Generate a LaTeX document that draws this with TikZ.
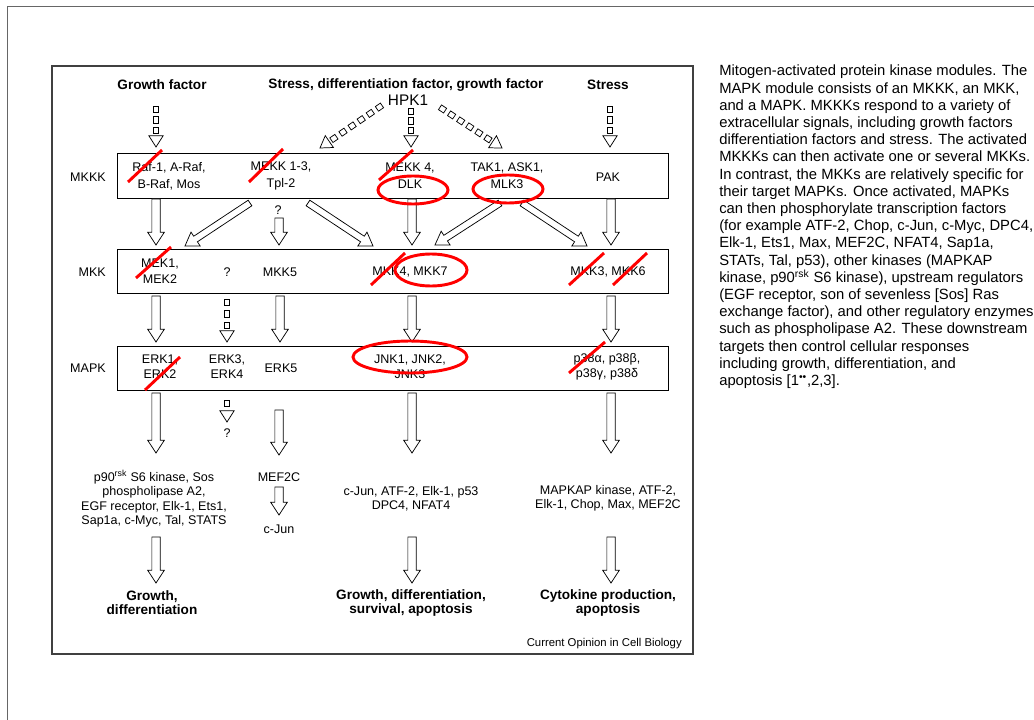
\documentclass[tikz,border=0pt]{standalone}
\usepackage{fontspec}
\setmainfont{Liberation Sans}
\usetikzlibrary{calc}

% hollow block arrow: optional shaft half width, start, tip
\newcommand{\blockarrow}[3][3.1pt]{%
  \coordinate (bap) at ($(#3)!9.5pt!(#2)$);
  \draw[barrow] ($(#2)!#1!90:(#3)$) -- ($(bap)!#1!-90:(#2)$)
    -- ($(bap)!6.2pt!-90:(#2)$) -- (#3) -- ($(bap)!6.2pt!90:(#2)$)
    -- ($(bap)!#1!90:(#2)$) -- ($(#2)!#1!-90:(#3)$) -- cycle;}

% dotted signal arrow: start, tip, number of links
\newcommand{\linkarrow}[3]{%
  \coordinate (lap) at ($(#2)!8.5pt!(#1)$);
  \foreach \k [evaluate=\k as \t using (\k-0.5)/#3] in {1,...,#3}
    \path (#1) -- (lap) node[dbox, sloped, pos=\t] {};
  \draw[barrow] ($(lap)!5.4pt!-90:(#1)$) -- (#2) -- ($(lap)!5.4pt!90:(#1)$) -- cycle;}

\begin{document}
\begin{tikzpicture}[x=0.75pt,y=-0.75pt,
  frame/.style={draw=black!75, line width=1.1pt},
  row/.style={draw=black, line width=0.7pt, fill=white, inner sep=0pt,
    minimum width=413.25pt, minimum height=33.5pt},
  txt/.style={font=\fontsize{9.4}{12.75}\selectfont, align=center, inner sep=0pt},
  txtb/.style={txt, font=\fontsize{9.4}{12}\selectfont},
  txtc/.style={txt, font=\fontsize{9.4}{11.25}\selectfont},
  txtd/.style={txt, font=\fontsize{9.4}{10.75}\selectfont},
  head/.style={font=\bfseries\fontsize{10.2}{10.5}\selectfont, align=center, inner sep=0pt},
  barrow/.style={draw=black, line width=0.55pt, fill=white, line join=miter},
  dbox/.style={draw=black, line width=0.55pt, fill=white, rectangle, inner sep=0pt,
    minimum width=4.6pt, minimum height=4.2pt},
  knock/.style={draw=red, line width=2.2pt}]

% page and figure frames
\fill[white] (0,0) rectangle (1034,720);
\useasboundingbox (0,0) rectangle (1034,720);
\draw[draw=black!60, line width=1.4pt] (7.5,720) -- (7.5,6.5) -- (1034,6.5);
\draw[frame] (52,66) rectangle (693,654);

% signal sources
\node[head] (hgf) at (162,85) {Growth factor};
\node[head] (hsd) at (406,85) {Stress, differentiation factor, growth factor};
\node[head] (hst) at (608,85) {Stress};
\node[font=\fontsize{11.5}{12}\selectfont, inner sep=0pt] (hpk) at (408,100) {HPK1};

% module rows
\node[row] (mkkk) at (392.5,176) {};
\node[row] (mkk) at (392.5,271.5) {};
\node[row] (mapk) at (392.5,368.5) {};
\node[txt, anchor=east] (lmkkk) at (106,177) {MKKK};
\node[txt, anchor=east] (lmkk) at (106,272) {MKK};
\node[txt, anchor=east] (lmapk) at (106,368) {MAPK};

% MKKK members
\node[txt] (raf) at (169,176) {Raf-1, A-Raf,\\B-Raf, Mos};
\node[txt] (mekk13) at (281,176) {MEKK 1-3,\\Tpl-2};
\node[txt] (mekk4) at (410,176) {MEKK 4,\\DLK};
\node[txt] (tak) at (507,176) {TAK1, ASK1,\\MLK3};
\node[txt] (pak) at (608,177) {PAK};

% MKK members
\node[txtb] (mek) at (160,271) {MEK1,\\MEK2};
\node[txt] (mkkq) at (227,272) {?};
\node[txt] (mkk5) at (280,272) {MKK5};
\node[txt] (mkk47) at (410,272) {MKK4, MKK7};
\node[txt] (mkk36) at (608,272) {MKK3, MKK6};

% MAPK members
\node[txtc] (erk12) at (160,367) {ERK1,\\ERK2};
\node[txtc] (erk34) at (227,367) {ERK3,\\ERK4};
\node[txt] (erk5) at (281,368) {ERK5};
\node[txtc] (jnk) at (410,367) {JNK1, JNK2,\\JNK3};
\node[txtc] (p38) at (607,367) {p38α, p38β,\\p38γ, p38δ};

% substrates and responses
\node[txt] (q212) at (278,210) {?};
\node[txt] (q433) at (227,433) {?};
\node[txt] (mef) at (279,477) {MEF2C};
\node[txt] (cjun) at (279,529) {c-Jun};
\node[txtd] (sub1) at (154,498.5) {p90\textsuperscript{rsk} S6 kinase, Sos\\phospholipase A2,\\EGF receptor, Elk-1, Ets1,\\Sap1a, c-Myc, Tal, STATS};
\node[txtd] (sub3) at (411,498.5) {c-Jun, ATF-2, Elk-1, p53\\DPC4, NFAT4};
\node[txtd] (sub5) at (608,498.5) {MAPKAP kinase, ATF-2,\\Elk-1, Chop, Max, MEF2C};
\node[head] (res1) at (152,603) {Growth,\\differentiation};
\node[head] (res3) at (411,603) {Growth, differentiation,\\survival, apoptosis};
\node[head] (res5) at (608,603) {Cytokine production,\\apoptosis};
\node[font=\fontsize{8.5}{9}\selectfont, inner sep=0pt, anchor=east] (credit) at (682,644) {Current Opinion in Cell Biology};

% arrow end points
\coordinate (s1a) at (156,104); \coordinate (t1a) at (156,147);
\coordinate (s3a) at (411,106); \coordinate (t3a) at (411,147);
\coordinate (s5a) at (610,104); \coordinate (t5a) at (610,147);
\coordinate (shl) at (384,104); \coordinate (thl) at (320,148);
\coordinate (shr) at (438,106); \coordinate (thr) at (502,148);

\coordinate (k1s) at (156,199); \coordinate (k1t) at (156,245);
\coordinate (k2s) at (250,203); \coordinate (k2t) at (185,246);
\coordinate (k3s) at (279,218); \coordinate (k3t) at (279,245);
\coordinate (k4s) at (308,203); \coordinate (k4t) at (373,246);
\coordinate (k5s) at (412,199); \coordinate (k5t) at (412,245);
\coordinate (k6s) at (500,203); \coordinate (k6t) at (435,245);
\coordinate (k7s) at (522,203); \coordinate (k7t) at (587,246);
\coordinate (k8s) at (611,199); \coordinate (k8t) at (611,245);

\coordinate (m1s) at (156,296); \coordinate (m1t) at (156,342);
\coordinate (m2s) at (227,297); \coordinate (m2t) at (227,342);
\coordinate (m3s) at (280,296); \coordinate (m3t) at (280,342);
\coordinate (m4s) at (412,296); \coordinate (m4t) at (412,342);
\coordinate (m5s) at (611,296); \coordinate (m5t) at (611,342);

\coordinate (p1s) at (156,393); \coordinate (p1t) at (156,453);
\coordinate (p2s) at (227,396); \coordinate (p2t) at (227,422);
\coordinate (p3s) at (279,410); \coordinate (p3t) at (279,455);
\coordinate (p4s) at (412,393); \coordinate (p4t) at (412,453);
\coordinate (p5s) at (611,393); \coordinate (p5t) at (611,453);
\coordinate (p6s) at (279,487); \coordinate (p6t) at (279,515);

\coordinate (r1s) at (156,537); \coordinate (r1t) at (156,583);
\coordinate (r3s) at (412,537); \coordinate (r3t) at (412,583);
\coordinate (r5s) at (611,537); \coordinate (r5t) at (611,583);

% signal inputs
\linkarrow{s1a}{t1a}{3}
\linkarrow{s3a}{t3a}{3}
\linkarrow{s5a}{t5a}{3}
\linkarrow{shl}{thl}{6}
\linkarrow{shr}{thr}{6}

% MKKK to MKK
\blockarrow{k1s}{k1t}
\blockarrow[2.5pt]{k2s}{k2t}
\blockarrow{k3s}{k3t}
\blockarrow[2.5pt]{k4s}{k4t}
\blockarrow{k5s}{k5t}
\blockarrow[2.5pt]{k6s}{k6t}
\blockarrow[2.5pt]{k7s}{k7t}
\blockarrow{k8s}{k8t}

% MKK to MAPK
\blockarrow{m1s}{m1t}
\linkarrow{m2s}{m2t}{3}
\blockarrow{m3s}{m3t}
\blockarrow{m4s}{m4t}
\blockarrow{m5s}{m5t}

% MAPK to targets and responses
\blockarrow{p1s}{p1t}
\linkarrow{p2s}{p2t}{1}
\blockarrow{p3s}{p3t}
\blockarrow{p4s}{p4t}
\blockarrow{p5s}{p5t}
\blockarrow{p6s}{p6t}
\blockarrow{r1s}{r1t}
\blockarrow{r3s}{r3t}
\blockarrow{r5s}{r5t}

% red knock-out strokes and highlight rings
\draw[knock] (128,182) -- (162,150);
\draw[knock] (249,182) -- (283,149);
\draw[knock] (379,180) -- (413,150);
\draw[knock] (136,278) -- (171,247);
\draw[knock] (371,285) -- (405,253);
\draw[knock] (569,285) -- (604,253);
\draw[knock] (613,285) -- (647,253);
\draw[knock] (145,390) -- (180,357);
\draw[knock] (569,373) -- (605,342);
\draw[knock] (413,190) ellipse [x radius=35, y radius=14];
\draw[knock] (508,189) ellipse [x radius=35, y radius=14];
\draw[knock] (431,270) ellipse [x radius=36, y radius=16];
\draw[knock] (410,357) ellipse [x radius=57, y radius=16];

% figure legend
\node[anchor=north west, inner sep=0pt, align=left, font=\fontsize{11.1}{12.9}\selectfont] (legend) at (719,65) {%
Mitogen-activated protein kinase modules. The\\
MAPK module consists of an MKKK, an MKK,\\
and a MAPK. MKKKs respond to a variety of\\
extracellular signals, including growth factors\\
differentiation factors and stress. The activated\\
MKKKs can then activate one or several MKKs.\\
In contrast, the MKKs are relatively specific for\\
their target MAPKs. Once activated, MAPKs\\
can then phosphorylate transcription factors\\
(for example ATF-2, Chop, c-Jun, c-Myc, DPC4,\\
Elk-1, Ets1, Max, MEF2C, NFAT4, Sap1a,\\
STATs, Tal, p53), other kinases (MAPKAP\\
kinase, p90\textsuperscript{rsk} S6 kinase), upstream regulators\\
(EGF receptor, son of sevenless [Sos] Ras\\
exchange factor), and other regulatory enzymes\\
such as phospholipase A2. These downstream\\
targets then control cellular responses\\
including growth, differentiation, and\\
apoptosis [1\textsuperscript{••},2,3].};
\end{tikzpicture}
\end{document}
